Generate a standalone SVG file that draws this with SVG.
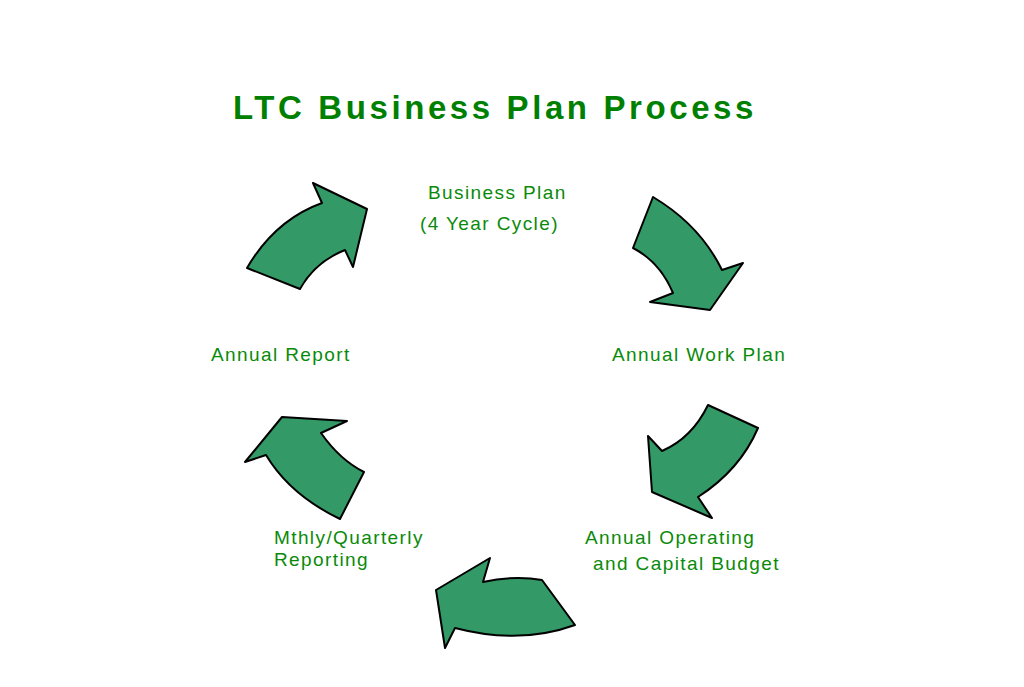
<svg xmlns="http://www.w3.org/2000/svg" width="1024" height="687" viewBox="0 0 1024 687">
<style>
.a{fill:#339966;stroke:#000;stroke-width:2;stroke-linejoin:round}
.t{font-family:"Liberation Sans",Arial,sans-serif;fill:#0a8a0a;font-size:19px;letter-spacing:1.4px}
.h{font-family:"Liberation Sans",Arial,sans-serif;fill:#008000;font-size:33px;font-weight:bold;letter-spacing:3.6px}
</style>
<rect width="1024" height="687" fill="#fff"/>
<text class="h" x="495" y="119" text-anchor="middle">LTC Business Plan Process</text>
<g id="connectors">
<path id="arrow1" class="a" d="M247,268 Q275,220 322,203 L313,183 L367,209 L353,267 L345,250 Q315,262 300,289 Z"/>
<path id="arrow2" class="a" d="M653,197 Q700,225 722,270 L743,263 L710,310 L650,302 L673,293 Q660,262 633,248 Z"/>
<path id="arrow3" class="a" d="M708,405 L758,428 Q740,470 698,497 L712,518 L652,492 L648,436 L662,451 Q692,438 708,405 Z"/>
<path id="arrow4" class="a" d="M542,580 L575,625 Q520,645 455,628 L445,648 L436,590 L490,558 L483,582 Q515,575 542,580 Z"/>
<path id="arrow5" class="a" d="M245,462 L282,417 L347,421 L321,433 Q340,460 364,472 L340,519 Q290,495 266,455 Z"/>
</g>
<g id="n1"><text class="t" x="428" y="199">Business Plan</text><text class="t" x="420" y="230">(4 Year Cycle)</text></g>
<g id="n2"><text class="t" x="612" y="361">Annual Work Plan</text></g>
<g id="n3"><text class="t" x="585" y="544">Annual Operating</text><text class="t" x="593" y="570">and Capital Budget</text></g>
<g id="n4"><text class="t" x="274" y="544">Mthly/Quarterly</text><text class="t" x="274" y="566">Reporting</text></g>
<g id="n5"><text class="t" x="211" y="361">Annual Report</text></g>
</svg>
